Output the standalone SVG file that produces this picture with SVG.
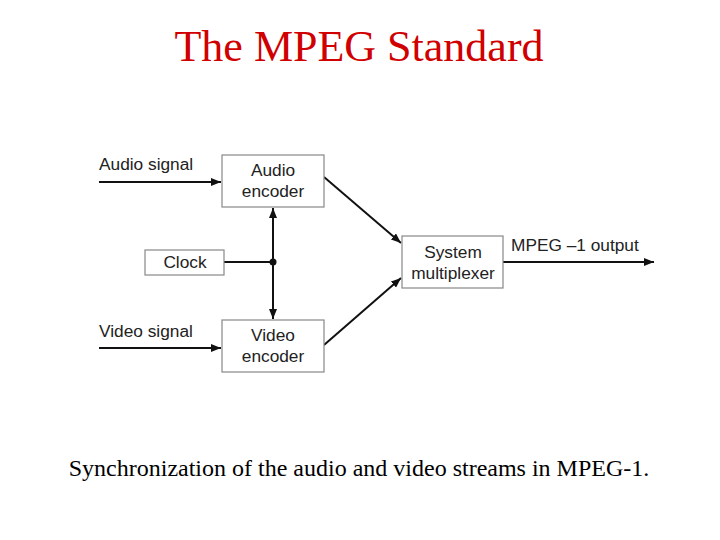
<svg xmlns="http://www.w3.org/2000/svg" width="720" height="540" viewBox="0 0 720 540">
<defs>
<marker id="ah" markerWidth="10" markerHeight="8" refX="10" refY="4" orient="auto" markerUnits="userSpaceOnUse">
<path d="M0,0 L10,4 L0,8 Z" fill="#111"/>
</marker>
<style>
.box{fill:#fff;stroke:#888;stroke-width:1.2}
.lbl{font-family:"Liberation Sans",Arial,sans-serif;font-size:17.3px;fill:#222}
.c{text-anchor:middle}
.ln{stroke:#111;stroke-width:2;fill:none}
</style>
</defs>
<rect width="720" height="540" fill="#fff"/>
<text x="359" y="61" text-anchor="middle" font-family="Liberation Serif,'Times New Roman',serif" font-size="44" fill="#d00000">The MPEG Standard</text>
<g id="connectors">
<line class="ln" x1="99" y1="182" x2="221" y2="182" marker-end="url(#ah)"/>
<line class="ln" x1="99" y1="348" x2="221" y2="348" marker-end="url(#ah)"/>
<line class="ln" x1="224" y1="262" x2="273" y2="262"/>
<line class="ln" x1="273" y1="262" x2="273" y2="208" marker-end="url(#ah)"/>
<line class="ln" x1="273" y1="262" x2="273" y2="319" marker-end="url(#ah)"/>
<circle cx="273" cy="262" r="3.5" fill="#111"/>
<line class="ln" x1="324" y1="177" x2="401" y2="243" marker-end="url(#ah)"/>
<line class="ln" x1="324" y1="345" x2="401" y2="278" marker-end="url(#ah)"/>
<line class="ln" x1="503" y1="262" x2="654" y2="262" marker-end="url(#ah)"/>
</g>
<text class="lbl" x="99" y="170">Audio signal</text>
<text class="lbl" x="99" y="337">Video signal</text>
<text class="lbl" x="511" y="251">MPEG –1 output</text>
<g id="audio-encoder">
<rect class="box" x="222" y="155" width="102" height="52"/>
<text class="lbl c" x="273" y="176">Audio</text>
<text class="lbl c" x="273" y="197">encoder</text>
</g>
<g id="clock">
<rect class="box" x="145" y="250" width="79" height="25"/>
<text class="lbl c" x="185" y="268">Clock</text>
</g>
<g id="video-encoder">
<rect class="box" x="222" y="320" width="102" height="52"/>
<text class="lbl c" x="273" y="341">Video</text>
<text class="lbl c" x="273" y="362">encoder</text>
</g>
<g id="system-multiplexer">
<rect class="box" x="402" y="236" width="101" height="52"/>
<text class="lbl c" x="453" y="258">System</text>
<text class="lbl c" x="453" y="279">multiplexer</text>
</g>
<text x="359" y="476" text-anchor="middle" font-family="Liberation Serif,'Times New Roman',serif" font-size="24" fill="#000">Synchronization of the audio and video streams in MPEG-1.</text>
</svg>
